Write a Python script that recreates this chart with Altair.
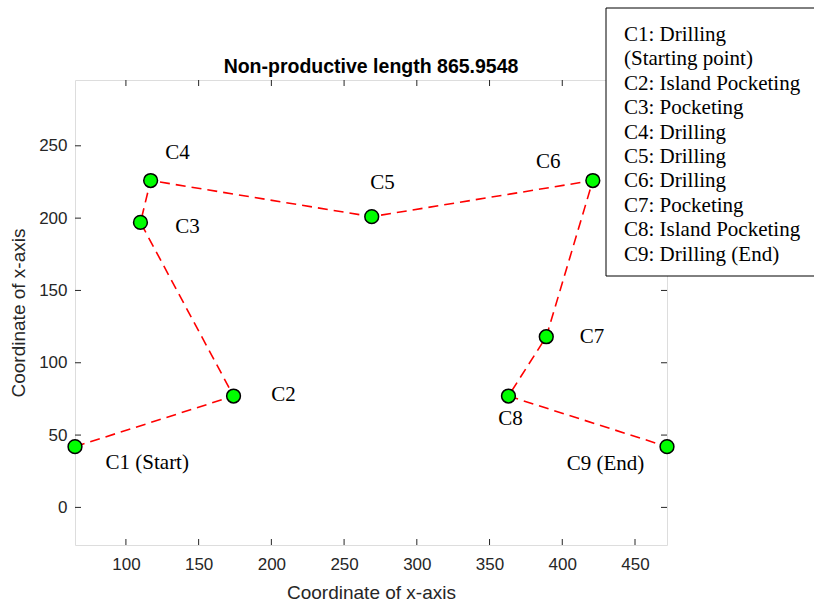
import altair as alt
import pandas as pd

# ---- data ----
point_names = ["C1", "C2", "C3", "C4", "C5", "C6", "C7", "C8", "C9"]
x_vals = [65, 174, 110, 117, 269, 421, 389, 363, 472]
y_vals = [42, 77, 197, 226, 201, 226, 118, 77, 42]
point_text = ["C1 (Start)", "C2", "C3", "C4", "C5", "C6", "C7", "C8", "C9 (End)"]
label_x = [86, 200, 134, 127, 268, 382, 412, 356, 403]
label_y = [31, 78, 194, 245, 224, 239, 118, 61, 30]
x_ticks = [100, 150, 200, 250, 300, 350, 400, 450]
y_ticks = [0, 50, 100, 150, 200, 250]
legend_lines = [
    "C1: Drilling",
    "(Starting point)",
    "C2: Island Pocketing",
    "C3: Pocketing",
    "C4: Drilling",
    "C5: Drilling",
    "C6: Drilling",
    "C7: Pocketing",
    "C8: Island Pocketing",
    "C9: Drilling (End)",
]
title_text = "Non-productive length 865.9548"
axis_title = "Coordinate of x-axis"

W, H = 592, 465
AX = "#262626"

pts = pd.DataFrame({"name": point_names, "x": x_vals, "y": y_vals,
                    "order": list(range(len(point_names)))})
lbl = pd.DataFrame({"text": point_text, "x": label_x, "y": label_y})
xt = pd.DataFrame({"v": x_ticks})
yt = pd.DataFrame({"v": y_ticks})

xscale = alt.Scale(domain=[65, 472], nice=False, zero=False)
yscale = alt.Scale(domain=[-26, 295.5], nice=False, zero=False)

xaxis = alt.Axis(values=x_ticks, title=axis_title, grid=False, domain=False, ticks=False,
                 labelFontSize=17, titleFontSize=19, labelPadding=11, titlePadding=11,
                 labelFont="Liberation Sans", titleFont="Liberation Sans",
                 labelColor=AX, titleColor=AX, titleFontWeight="normal")
yaxis = alt.Axis(values=y_ticks, title=axis_title, grid=False, domain=False, ticks=False,
                 labelFontSize=17, titleFontSize=19, labelPadding=8, titlePadding=10,
                 labelFont="Liberation Sans", titleFont="Liberation Sans",
                 labelColor=AX, titleColor=AX, titleFontWeight="normal")

base_line = alt.Chart(pts).mark_line(
    color="#ff0000", strokeWidth=1.6, strokeDash=[10, 6]
).encode(
    x=alt.X("x:Q", scale=xscale, axis=xaxis),
    y=alt.Y("y:Q", scale=yscale, axis=yaxis),
    order="order:Q",
)

points = alt.Chart(pts).mark_point(
    shape="circle", filled=True, fill="#00ff00", stroke="#000000",
    strokeWidth=1.5, size=190, opacity=1
).encode(x="x:Q", y="y:Q")

labels = alt.Chart(lbl).mark_text(
    font="Liberation Serif", fontSize=21, color="#000000", align="left", baseline="middle"
).encode(x="x:Q", y="y:Q", text="text:N")

tick_len = 6
bt = alt.Chart(xt).mark_rule(color=AX, strokeWidth=1).encode(
    x="v:Q", y=alt.value(H), y2=alt.value(H - tick_len))
tt = alt.Chart(xt).mark_rule(color=AX, strokeWidth=1).encode(
    x="v:Q", y=alt.value(0), y2=alt.value(tick_len))
lt = alt.Chart(yt).mark_rule(color=AX, strokeWidth=1).encode(
    y="v:Q", x=alt.value(0), x2=alt.value(tick_len))
rt = alt.Chart(yt).mark_rule(color=AX, strokeWidth=1).encode(
    y="v:Q", x=alt.value(W), x2=alt.value(W - tick_len))

title_mark = alt.Chart(pd.DataFrame({"a": [0]})).mark_text(
    text=title_text, font="Liberation Sans", fontSize=19.5, fontWeight="bold",
    color="#000000", align="center", baseline="middle"
).encode(x=alt.value(W / 2), y=alt.value(-13))

legend_box = alt.Chart(pd.DataFrame({"a": [0]})).mark_rect(
    fill="#ffffff", stroke="#000000", strokeWidth=1
).encode(x=alt.value(531), x2=alt.value(745), y=alt.value(-72), y2=alt.value(196))

legend_text = alt.Chart(pd.DataFrame({"a": [0]})).mark_text(
    text=legend_lines, font="Liberation Serif", fontSize=21, color="#000000",
    align="left", baseline="alphabetic", lineHeight=24.4
).encode(x=alt.value(549), y=alt.value(-39))

chart = alt.layer(
    bt, tt, lt, rt, base_line, points, labels, title_mark, legend_box, legend_text
).properties(
    width=W, height=H,
    autosize="none",
    padding={"left": 75, "top": 80, "right": 147, "bottom": 57},
).configure_view(
    stroke=AX, strokeWidth=1
).configure(background="#ffffff")

chart.save("out.html", embed_options={"renderer": "svg", "actions": False})
